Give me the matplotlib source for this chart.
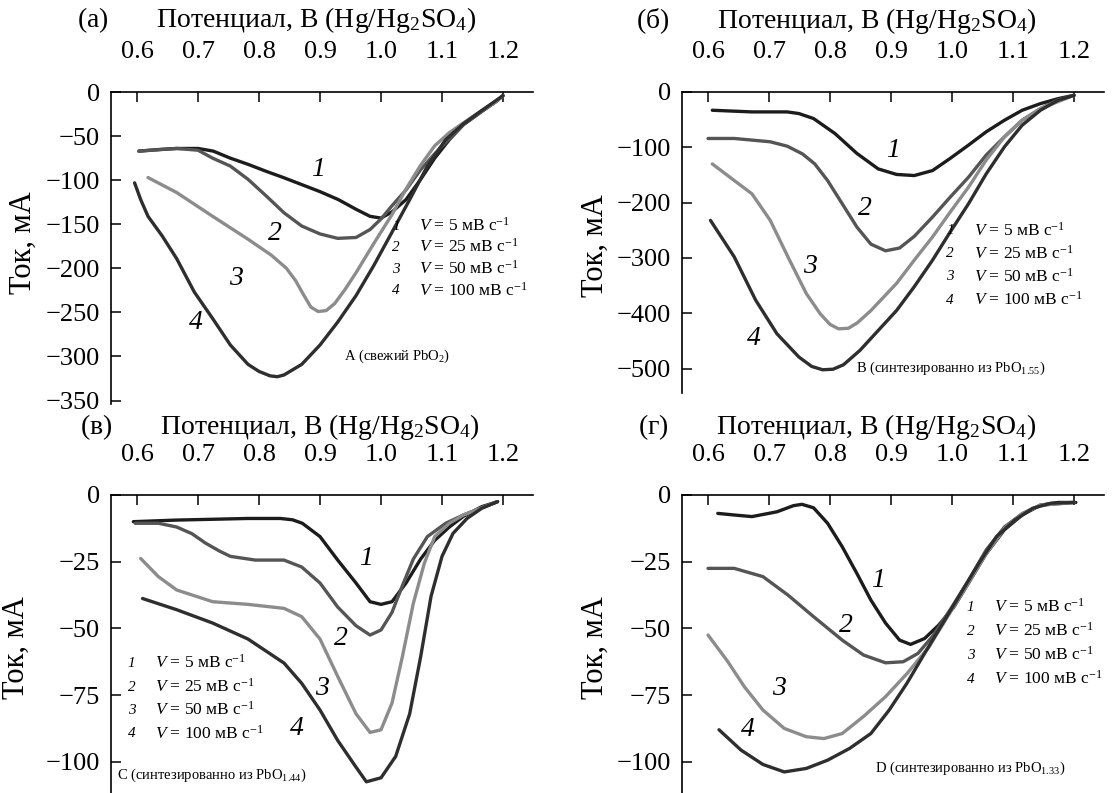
import numpy as np
import matplotlib
matplotlib.use("Agg")
import matplotlib.pyplot as plt
from matplotlib.ticker import FormatStrFormatter, FixedLocator

plt.rcParams['font.family'] = ['Liberation Serif', 'DejaVu Serif']
plt.rcParams['mathtext.fontset'] = 'custom'
plt.rcParams['mathtext.rm'] = 'Liberation Serif'
plt.rcParams['mathtext.it'] = 'Liberation Serif:italic'

# ---------------- data (potential, V ; current, mA) ----------------
# panel (а) fresh PbO2
a_e1 = [0.603, 0.64, 0.665, 0.70, 0.725, 0.753, 0.782, 0.812, 0.84, 0.87, 0.90, 0.93, 0.959, 0.982, 1.0, 1.018, 1.041, 1.065, 1.088, 1.112, 1.135, 1.165, 1.19, 1.2]
a_i1 = [-67, -65, -64, -64, -67, -75, -82, -90, -97, -105, -113, -122, -133, -141, -143, -136, -122, -99, -75, -54, -37, -22, -10, -4]
a_e2 = [0.603, 0.665, 0.70, 0.724, 0.753, 0.782, 0.812, 0.841, 0.87, 0.90, 0.929, 0.959, 0.982, 1.0, 1.018, 1.041, 1.065, 1.088, 1.112, 1.135, 1.165, 1.19, 1.2]
a_i2 = [-67, -64, -66, -75, -84, -99, -118, -137, -152, -161, -166, -165, -156, -144, -129, -111, -88, -70, -53, -37, -22, -10, -4]
a_e3 = [0.618, 0.665, 0.724, 0.782, 0.82, 0.845, 0.86, 0.873, 0.885, 0.897, 0.91, 0.924, 0.941, 0.959, 0.988, 1.018, 1.041, 1.065, 1.088, 1.112, 1.135, 1.165, 1.19, 1.2]
a_i3 = [-97, -114, -141, -167, -185, -200, -214, -230, -244, -249, -248, -240, -224, -205, -172, -139, -110, -83, -61, -46, -35, -21, -10, -4]
a_e4 = [0.596, 0.606, 0.618, 0.641, 0.665, 0.694, 0.724, 0.753, 0.782, 0.80, 0.818, 0.83, 0.841, 0.87, 0.90, 0.929, 0.959, 0.988, 1.018, 1.047, 1.076, 1.106, 1.135, 1.165, 1.2]
a_i4 = [-103, -122, -141, -163, -189, -227, -257, -287, -309, -317, -322, -323, -321, -309, -287, -261, -231, -197, -159, -122, -84, -54, -36, -21, -4]

# panel (б) synthesized from PbO1.55
b_e1 = [0.607, 0.672, 0.73, 0.749, 0.773, 0.808, 0.844, 0.879, 0.909, 0.938, 0.968, 0.997, 1.027, 1.056, 1.086, 1.115, 1.145, 1.174, 1.2]
b_i1 = [-33, -36, -36, -39, -48, -75, -111, -139, -149, -151, -142, -120, -96, -72, -51, -33, -21, -12, -6]
b_e2 = [0.6, 0.643, 0.702, 0.73, 0.755, 0.775, 0.796, 0.82, 0.844, 0.867, 0.891, 0.914, 0.938, 0.968, 0.997, 1.027, 1.056, 1.086, 1.115, 1.145, 1.174, 1.2]
b_i2 = [-84, -84, -90, -98, -112, -130, -160, -202, -244, -275, -287, -282, -261, -226, -190, -154, -114, -81, -51, -30, -14, -6]
b_e3 = [0.607, 0.643, 0.672, 0.702, 0.731, 0.761, 0.784, 0.80, 0.814, 0.83, 0.845, 0.867, 0.909, 0.938, 0.968, 0.997, 1.027, 1.056, 1.086, 1.115, 1.145, 1.2]
b_i3 = [-130, -160, -184, -232, -298, -364, -401, -420, -428, -427, -417, -395, -346, -304, -262, -217, -172, -123, -81, -51, -30, -6]
b_e4 = [0.604, 0.643, 0.678, 0.713, 0.749, 0.77, 0.788, 0.805, 0.822, 0.849, 0.879, 0.909, 0.938, 0.968, 0.997, 1.027, 1.056, 1.086, 1.115, 1.145, 1.174, 1.2]
b_i4 = [-232, -298, -376, -437, -479, -496, -502, -501, -493, -467, -431, -395, -352, -304, -253, -202, -148, -99, -60, -33, -15, -6]

# panel (в) synthesized from PbO1.44
c_e1 = [0.594, 0.665, 0.724, 0.782, 0.835, 0.855, 0.871, 0.90, 0.929, 0.959, 0.982, 1.0, 1.018, 1.041, 1.065, 1.088, 1.112, 1.135, 1.165, 1.191]
c_i1 = [-10, -9.4, -9.1, -8.8, -8.8, -9.3, -10.6, -15.6, -24.4, -33, -40, -41, -40, -33, -24, -17, -12, -8, -4.4, -2.5]
c_e2 = [0.597, 0.635, 0.665, 0.69, 0.712, 0.735, 0.753, 0.794, 0.841, 0.87, 0.90, 0.929, 0.959, 0.982, 1.0, 1.018, 1.035, 1.053, 1.076, 1.106, 1.135, 1.191]
c_i2 = [-10.6, -10.6, -12, -14.5, -18, -21, -23, -24.4, -24.4, -27, -33, -42, -49, -52.5, -50.6, -44, -34, -24, -15.6, -10.6, -7.5, -2.5]
c_e3 = [0.606, 0.635, 0.665, 0.724, 0.782, 0.841, 0.87, 0.90, 0.929, 0.959, 0.982, 1.0, 1.018, 1.035, 1.053, 1.071, 1.088, 1.112, 1.135, 1.191]
c_i3 = [-23.8, -30.6, -35.6, -40, -41, -42.5, -45.6, -54, -68, -82, -89, -88, -78, -60.6, -40.6, -25.6, -15.6, -10.6, -7.5, -2.5]
c_e4 = [0.609, 0.665, 0.724, 0.782, 0.841, 0.87, 0.90, 0.929, 0.959, 0.976, 1.0, 1.024, 1.047, 1.065, 1.082, 1.10, 1.118, 1.141, 1.165, 1.191]
c_i4 = [-38.8, -43, -48, -54, -63, -70.6, -80.6, -92, -102, -107.5, -106, -98, -82, -60.6, -38, -23, -14.4, -8.8, -5, -2.5]

# panel (г) synthesized from PbO1.33
d_e1 = [0.616, 0.643, 0.672, 0.713, 0.74, 0.754, 0.773, 0.796, 0.82, 0.844, 0.867, 0.891, 0.914, 0.932, 0.955, 0.978, 1.003, 1.027, 1.056, 1.086, 1.115, 1.145, 1.174, 1.203]
d_i1 = [-6.9, -7.5, -8.1, -6.3, -4.0, -3.5, -4.8, -10.6, -19.4, -29.4, -39.4, -48, -54.4, -56, -53.8, -48.8, -42, -33, -22, -13, -7.5, -3.8, -2.8, -2.8]
d_e2 = [0.6, 0.643, 0.69, 0.731, 0.773, 0.82, 0.855, 0.891, 0.92, 0.944, 0.968, 0.997, 1.027, 1.056, 1.086, 1.115, 1.145, 1.2]
d_i2 = [-27.5, -27.5, -30.6, -37.5, -45.6, -54.4, -60, -62.9, -62.5, -59.4, -53, -43, -32, -20.6, -12, -7, -3.8, -2.8]
d_e3 = [0.6, 0.631, 0.66, 0.69, 0.725, 0.761, 0.79, 0.82, 0.855, 0.891, 0.926, 0.962, 0.997, 1.027, 1.056, 1.086, 1.115, 1.145, 1.2]
d_i3 = [-52.5, -62, -72, -80.6, -87.5, -90.6, -91.3, -89.4, -83, -75.6, -67, -57, -44, -33, -22, -12.5, -7, -3.8, -2.8]
d_e4 = [0.618, 0.654, 0.69, 0.725, 0.761, 0.796, 0.832, 0.867, 0.897, 0.926, 0.955, 0.985, 1.014, 1.044, 1.073, 1.103, 1.132, 1.162, 1.2]
d_i4 = [-88, -95.6, -101, -103.8, -102.5, -99.4, -95, -89.4, -80.6, -70.6, -59.4, -48, -37, -25.6, -15.6, -9.4, -5, -3.1, -2.8]

rates = ['5', '25', '50', '100']
panel_letters = ['а', 'б', 'в', 'г']
sample_notes = ['A (свежий PbO$_2$)',
                'B (синтезированно из PbO$_{1.55}$)',
                'C (синтезированно из PbO$_{1.44}$)',
                'D (синтезированно из PbO$_{1.33}$)']
yticks_list = [[0, -50, -100, -150, -200, -250, -300, -350],
               [0, -100, -200, -300, -400, -500],
               [0, -25, -50, -75, -100],
               [0, -25, -50, -75, -100]]
xticks = [0.6, 0.7, 0.8, 0.9, 1.0, 1.1, 1.2]

curves = [[(a_e1, a_i1), (a_e2, a_i2), (a_e3, a_i3), (a_e4, a_i4)],
          [(b_e1, b_i1), (b_e2, b_i2), (b_e3, b_i3), (b_e4, b_i4)],
          [(c_e1, c_i1), (c_e2, c_i2), (c_e3, c_i3), (c_e4, c_i4)],
          [(d_e1, d_i1), (d_e2, d_i2), (d_e3, d_i3), (d_e4, d_i4)]]

colors = ['#1c1c1c', '#555555', '#8c8c8c', '#2e2e2e']

# number label positions, legend placement, note placement (data coords)
num_pos = [[(0.897, -88), (0.826, -161), (0.762, -212), (0.697, -262)],
           [(0.903, -105), (0.858, -211), (0.767, -316), (0.675, -446)],
           [(0.976, -23.8), (0.935, -53.8), (0.903, -72.5), (0.862, -87.5)],
           [(0.879, -32), (0.826, -48.8), (0.716, -72.5), (0.666, -88)]]
leg_x = [(1.025, 1.063), (0.997, 1.036), (0.591, 0.629), (1.030, 1.068)]
leg_y = [[-152, -176, -201, -225], [-250, -292, -334, -376],
         [-63, -72, -80.6, -89.4], [-42, -51, -60, -69]]
note_pos = [(0.94, -300), (0.843, -500), (0.568, -105), (0.873, -102.5)]

ylims = [(-354, 0), (-544, 0), (-111.7, 0), (-111.7, 0)]
xlim = (0.5574, 1.2492)

rects = [[0.0994, 0.4905, 0.3778, 0.3934],
         [0.6106, 0.5044, 0.3778, 0.3796],
         [0.0994, 0.0, 0.3778, 0.3758],
         [0.6106, 0.0, 0.3778, 0.3758]]
ylab_pos = [(-0.173, 0.516), (-0.171, 0.49), (-0.19, 0.487), (-0.171, 0.487)]
xlab_pos = [(0.393, 1.208), (0.367, 1.212), (0.40, 1.203), (0.367, 1.206)]

fig = plt.figure(figsize=(11.17, 7.93), dpi=100)

for k in range(4):
    ax = fig.add_axes(rects[k])
    for j, (e, i) in enumerate(curves[k]):
        ax.plot(e, i, color=colors[j], lw=2.4, solid_capstyle='round', solid_joinstyle='round')
        ax.text(num_pos[k][j][0], num_pos[k][j][1], str(j + 1), fontsize=20,
                style='italic', ha='center', va='center')
        ax.text(leg_x[k][0], leg_y[k][j], str(j + 1), fontsize=11,
                style='italic', ha='center', va='center')
        ax.text(leg_x[k][1], leg_y[k][j], '$\\mathit{V}$ = ' + rates[j] + ' мВ с$^{-1}$',
                fontsize=12.5, ha='left', va='center')
    ax.text(note_pos[k][0], note_pos[k][1], sample_notes[k], fontsize=10.5,
            ha='left', va='center')

    ax.set_xlim(*xlim)
    ax.set_ylim(*ylims[k])
    ax.spines['right'].set_visible(False)
    ax.spines['bottom'].set_visible(False)
    ax.spines['left'].set_linewidth(1.2)
    ax.spines['top'].set_linewidth(1.2)
    ax.xaxis.tick_top()
    ax.xaxis.set_label_position('top')
    ax.xaxis.set_major_locator(FixedLocator(xticks))
    ax.xaxis.set_major_formatter(FormatStrFormatter('%.1f'))
    ax.yaxis.set_major_locator(FixedLocator(yticks_list[k]))
    ax.tick_params(axis='x', direction='in', length=7, width=1.1, labelsize=19, pad=21)
    ax.tick_params(axis='y', direction='in', length=7, width=1.1, labelsize=19, pad=8)
    ax.set_xlabel('(' + panel_letters[k] + ')       Потенциал, В (Hg/Hg$_2$SO$_4$)', fontsize=20)
    ax.xaxis.set_label_coords(*xlab_pos[k])
    ax.set_ylabel('Ток, мА', fontsize=22)
    ax.yaxis.set_label_coords(*ylab_pos[k])
    ax.patch.set_alpha(0)

fig.savefig('out.png', dpi=100)
